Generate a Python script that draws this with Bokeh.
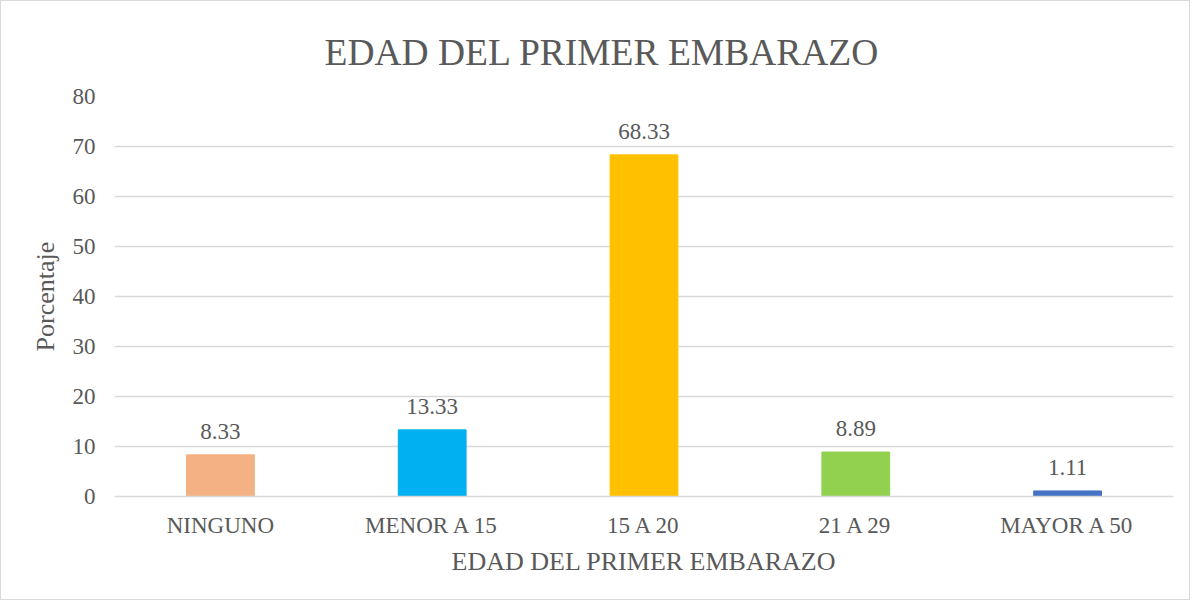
from bokeh.plotting import figure
from bokeh.models import ColumnDataSource, LabelSet, FactorRange
from bokeh.embed import file_html
from bokeh.resources import INLINE

categories = ["NINGUNO", "MENOR A 15", "15 A 20", "21 A 29", "MAYOR A 50"]
values = [8.33, 13.33, 68.33, 8.89, 1.11]
labels = ["8.33", "13.33", "68.33", "8.89", "1.11"]
colors = ["#F4B183", "#00B0F0", "#FFC000", "#92D050", "#4472C4"]
y_ticks = [0, 10, 20, 30, 40, 50, 60, 70, 80]
title_text = "EDAD DEL PRIMER EMBARAZO"

FONT = "Liberation Serif"
TXT = "#595959"
GRID = "#D9D9D9"

src = ColumnDataSource(dict(cat=categories, val=values, lab=labels, col=colors))

W, H = 1190, 600
p = figure(x_range=FactorRange(*categories), y_range=(0, 80),
           width=W, height=H, output_backend="svg", toolbar_location=None,
           min_border_left=113, min_border_right=18, min_border_top=95, min_border_bottom=105)
p.styles = {"border": "1px solid #D9D9D9"}

p.vbar(x="cat", top="val", width=0.32, color="col", source=src)

p.add_layout(LabelSet(x="cat", y="val", text="lab", source=src, text_align="center",
                      text_baseline="alphabetic", y_offset=16,
                      text_font=FONT, text_font_size="23px", text_color=TXT))

p.title.text = title_text
p.title.align = "left"
p.title.offset = 210
p.title.text_font = FONT
p.title.text_font_size = "37.5px"
p.title.text_font_style = "normal"
p.title.text_color = TXT
p.title.standoff = 48

p.outline_line_color = None
p.background_fill_color = "white"
p.border_fill_color = "white"

p.xgrid.grid_line_color = None
p.ygrid.grid_line_color = GRID
p.ygrid.grid_line_width = 1.5
p.yaxis.ticker = y_ticks

for ax in (p.xaxis, p.yaxis):
    ax.major_tick_line_color = None
    ax.minor_tick_line_color = None
    ax.major_label_text_font = FONT
    ax.major_label_text_font_size = "23px"
    ax.major_label_text_color = TXT
    ax.axis_label_text_font = FONT
    ax.axis_label_text_font_size = "26px"
    ax.axis_label_text_font_style = "normal"
    ax.axis_label_text_color = TXT

p.yaxis.axis_line_color = None
p.xaxis.axis_line_color = GRID
p.xaxis.axis_line_width = 1.5
p.yaxis.major_label_standoff = 13
p.xaxis.major_label_standoff = 10
p.xaxis.axis_label = "EDAD DEL PRIMER EMBARAZO"
p.yaxis.axis_label = "Porcentaje"
p.xaxis.axis_label_standoff = 6
p.yaxis.axis_label_standoff = 10

open("out.html", "w").write(file_html(p, INLINE))
